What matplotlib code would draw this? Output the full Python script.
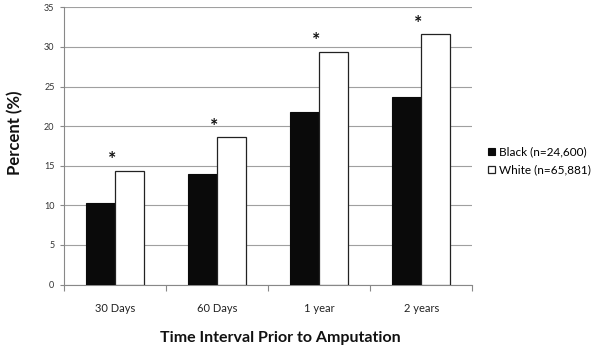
import numpy as np
import matplotlib
matplotlib.use('Agg')
from matplotlib import pyplot as plt

categories = ['30 Days', '60 Days', '1 year', '2 years']
black_pct = [10.3, 13.9, 21.8, 23.7]
white_pct = [14.4, 18.6, 29.4, 31.6]
series_labels = ['Black (n=24,600)', 'White (n=65,881)']
y_ticks = [0, 5, 10, 15, 20, 25, 30, 35]

plt.rcParams['font.family'] = ['Lato', 'DejaVu Sans']

fig = plt.figure(figsize=(6, 3.5), dpi=100)
ax = fig.add_axes([0.107, 0.187, 0.680, 0.792])

x = np.arange(len(categories))
w = 1 / 3.5  # excel gap width 150%
ax.bar(x - w / 2, black_pct, w, color='#0a0a0a', edgecolor='#0a0a0a', linewidth=0.8,
       label=series_labels[0], zorder=3)
ax.bar(x + w / 2, white_pct, w, color='white', edgecolor='#222222', linewidth=0.9,
       label=series_labels[1], zorder=3)

# significance stars above each pair
for xi, v in zip(x, white_pct):
    ax.text(xi - 0.03, v + 1.4, '*', ha='center', va='center', fontsize=14,
            fontweight='bold', color='#111111')

ax.set_xlim(-0.5, len(categories) - 0.5)
ax.set_ylim(0, 35)
ax.set_yticks(y_ticks)
ax.tick_params(axis='y', labelsize=6.5, labelcolor='#333333', length=3, color='#888888', pad=4)
ax.yaxis.grid(True, color='#a0a0a0', linewidth=0.8, zorder=0)
ax.set_axisbelow(True)

# categories centred between boundary ticks
ax.set_xticks(np.arange(len(categories) + 1) - 0.5)
ax.set_xticklabels([])
ax.set_xticks(x, minor=True)
ax.set_xticklabels(categories, minor=True)
ax.tick_params(axis='x', which='major', length=4, color='#888888', direction='out')
ax.tick_params(axis='x', which='minor', length=0, labelsize=8, labelcolor='#222222', pad=13)

for s in ['top', 'right']:
    ax.spines[s].set_visible(False)
ax.spines['left'].set_color('#888888')
ax.spines['bottom'].set_color('#888888')

fig.text(0.025, 0.62, 'Percent (%)', rotation=90, ha='center', va='center',
         fontsize=12, fontweight='bold', color='#111111')
fig.text(0.467, 0.034, 'Time Interval Prior to Amputation', ha='center', va='center',
         fontsize=11.5, fontweight='bold', color='#111111')

fig.legend(loc='center left', bbox_to_anchor=(0.8, 0.54), frameon=False, fontsize=8.5,
           handlelength=0.6, handleheight=0.6, handletextpad=0.3, labelspacing=0.6,
           borderpad=0.2)

fig.savefig('out.png', dpi=100, facecolor='white')
